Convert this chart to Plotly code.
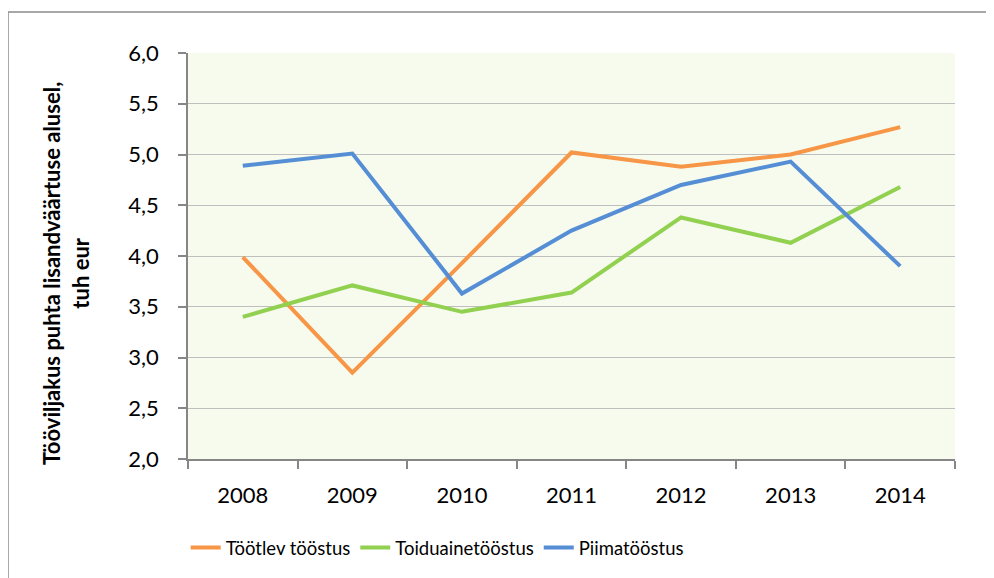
import plotly.graph_objects as go

years = ["2008", "2009", "2010", "2011", "2012", "2013", "2014"]
tootlev = [3.99, 2.85, 3.93, 5.02, 4.88, 5.00, 5.27]
toiduaine = [3.40, 3.71, 3.45, 3.64, 4.38, 4.13, 4.68]
piima = [4.89, 5.01, 3.63, 4.25, 4.70, 4.93, 3.90]

series = [
    ("Töötlev tööstus", tootlev, "#F79646"),
    ("Toiduainetööstus", toiduaine, "#92D050"),
    ("Piimatööstus", piima, "#558ED5"),
]

fig = go.Figure()
for name, vals, col in series:
    fig.add_trace(go.Scatter(x=years, y=vals, name=name, mode="lines",
                             line=dict(color=col, width=4)))

axis_col = "#868686"
# page body adds an 8px offset; margins compensate so the plot lands at 188..955 x 53..459
fig.update_layout(
    width=994, height=578,
    margin=dict(l=180, r=47, t=45, b=127),
    paper_bgcolor="white",
    plot_bgcolor="#F6FBEE",
    separators=", ",
    font=dict(family="Lato", size=22, color="black"),
    showlegend=True,
    legend=dict(orientation="h", x=-0.003, xanchor="left", y=-0.219, yanchor="middle",
                font=dict(family="Lato", size=18.5, color="black"),
                itemwidth=30, bgcolor="rgba(0,0,0,0)"),
    xaxis=dict(type="category", range=[-0.5, 6.5], showline=True, linecolor=axis_col, linewidth=1.5,
               ticks="outside", tickson="boundaries", ticklen=8, tickcolor=axis_col, tickwidth=1.5,
               showgrid=False, ticklabelstandoff=16, tickfont=dict(size=22)),
    yaxis=dict(range=[2, 6], dtick=0.5, tick0=2, tickformat=".1f", showline=True, linecolor=axis_col,
               linewidth=1.5, ticks="outside", ticklen=8, tickcolor=axis_col, tickwidth=1.5,
               showgrid=True, gridcolor="#BFBFBF", gridwidth=1.3, zeroline=False,
               ticklabelstandoff=15, tickfont=dict(size=22)),
    annotations=[dict(text="<b>Tööviljakus puhta lisandväärtuse alusel,<br>tuh eur</b>",
                      xref="paper", yref="paper", x=(66 - 188) / 767, y=(459 - 274) / 406,
                      xanchor="center", yanchor="middle", textangle=-90, showarrow=False,
                      font=dict(family="Lato", size=22, color="black"))],
    shapes=[dict(type="rect", xref="paper", yref="paper",
                 x0=(8 - 188) / 767, x1=1.1, y0=-0.35, y1=1 + (53 - 12) / 406,
                 line=dict(color="#8C8C8C", width=1.5), fillcolor="rgba(0,0,0,0)", layer="below")],
)

fig.write_html("out.html")
